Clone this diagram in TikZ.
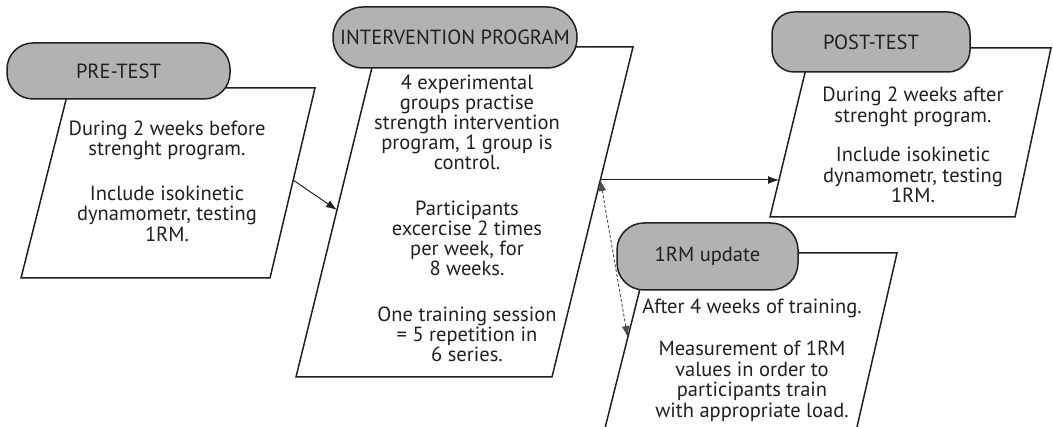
\documentclass[tikz,border=0pt]{standalone}
\usepackage{fontspec}
\setmainfont{PT Sans}
\usetikzlibrary{arrows.meta}
\definecolor{termgray}{RGB}{178,178,178}
\definecolor{ink}{RGB}{35,31,32}
\tikzset{
  paral/.style={draw=ink, line width=1.5pt, fill=white, line join=miter},
  term/.style={draw=ink, line width=1.5pt, fill=termgray, inner sep=0pt,
    font=\fontsize{20.5}{21}\selectfont, text=ink},
  body/.style={align=center, font=\fontsize{20.5}{20.5}\selectfont, text=ink, inner sep=0pt},
  flow/.style={draw=ink, line width=1pt, -{Latex[length=11pt,width=8pt]}},
  flowdash/.style={draw=ink!80, line width=0.9pt, densely dashed,
    {Latex[length=11pt,width=8pt]}-{Latex[length=11pt,width=8pt]}}
}
\begin{document}
\begin{tikzpicture}[x=1pt,y=-1pt]
\useasboundingbox (0,0) rectangle (1053,427);
\clip (0,0) rectangle (1053,427);

% parallelograms
\draw[paral] (69,88) -- (315,88) -- (270,278) -- (21,278) -- cycle;
\draw[paral] (377,47) -- (633,47) -- (552,377) -- (296,377) -- cycle;
\draw[paral] (811,48) -- (1051,48) -- (1015,217) -- (770,217) -- cycle;
\draw[paral] (649,253) -- (897,253) -- (854,440) -- (602,440) -- cycle;

% terminators
\node[term, rounded corners=26pt, minimum width=223pt, minimum height=56pt] (pre) at (118.5,71) {PRE-TEST};
\node[term, rounded corners=30pt, minimum width=244pt, minimum height=61pt] (int) at (455,37.5) {INTERVENTION PROGRAM};
\node[term, rounded corners=22pt, minimum width=198pt, minimum height=60pt] (post) at (871,42) {POST-TEST};
\node[term, rounded corners=27pt, minimum width=181pt, minimum height=67pt] (upd) at (707.5,256.5) {1RM update};

% texts
\node[body] (preText) at (167,181) {During 2 weeks before\\strenght program.\\[24pt]Include isokinetic\\dynamometr, testing\\1RM.};
\node[body, font=\fontsize{20.5}{20}\selectfont] (intText) at (467,218) {4 experimental\\groups practise\\strength intervention\\program, 1 group is\\control.\\[26pt]Participants\\excercise 2 times\\per week, for\\8 weeks.\\[26pt]One training session\\= 5 repetition in\\6 series.};
\node[body] (postText) at (913,145) {During 2 weeks after\\strenght program.\\[19pt]Include isokinetic\\dynamometr, testing\\1RM.};
\node[body] (updText) at (752,360) {After 4 weeks of training.\\[22pt]Measurement of 1RM\\values in order to\\participants train\\with appropriate load.};

% connector end points on the box edges
\coordinate (preOut) at (293,180);
\coordinate (intIn) at (337,210);
\coordinate (intOut) at (600.4,180);
\coordinate (postIn) at (779,180);
\coordinate (updIn) at (627.6,337);

\draw[flow] (preOut) -- (intIn);
\draw[flow] (intOut) -- (postIn);
\draw[flowdash] (intOut) -- (updIn);
\end{tikzpicture}
\end{document}
